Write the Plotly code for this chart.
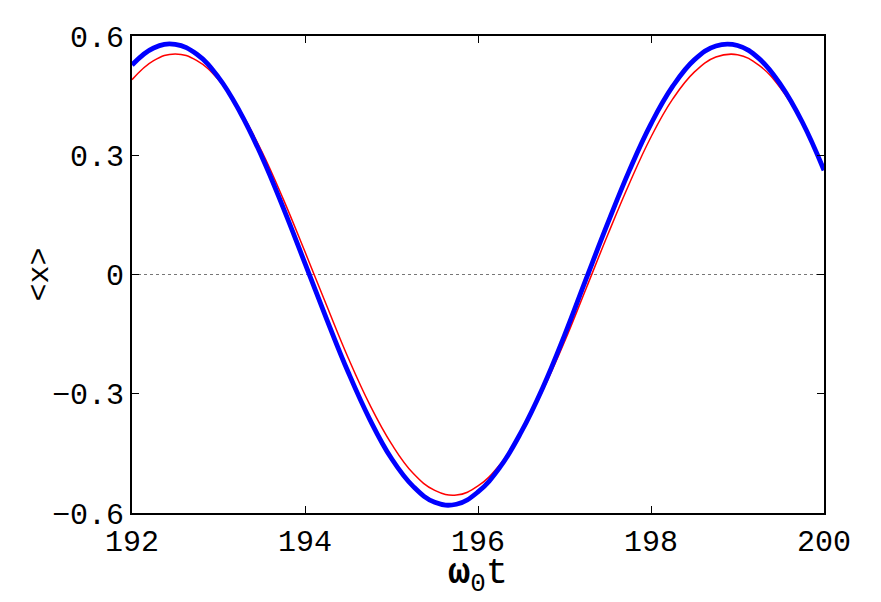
import plotly.graph_objects as go

t_values = [192.0 + 0.25 * i for i in range(33)]

x_blue = [0.527, 0.570, 0.579, 0.554, 0.496, 0.408, 0.297, 0.167, 0.028, -0.112,
          -0.246, -0.365, -0.463, -0.533, -0.573, -0.578, -0.547, -0.486, -0.396, -0.284,
          -0.153, -0.011, 0.129, 0.262, 0.379, 0.473, 0.540, 0.575, 0.576, 0.543,
          0.477, 0.383, 0.262]

x_red = [0.490, 0.538, 0.555, 0.538, 0.490, 0.412, 0.310, 0.189, 0.057, -0.078,
         -0.210, -0.328, -0.426, -0.500, -0.543, -0.555, -0.532, -0.479, -0.397, -0.291,
         -0.169, -0.035, 0.100, 0.229, 0.346, 0.441, 0.509, 0.547, 0.553, 0.526,
         0.468, 0.382, 0.270]

x_ticks = [192, 194, 196, 198, 200]
y_ticks = [-0.6, -0.3, 0, 0.3, 0.6]
y_tick_labels = ["\u22120.6", "\u22120.3", "0", "0.3", "0.6"]

fig = go.Figure()
fig.add_trace(go.Scatter(x=t_values, y=x_red, mode="lines",
                         line=dict(color="#ff0000", width=1.5, shape="spline", smoothing=1.2),
                         showlegend=False))
fig.add_trace(go.Scatter(x=t_values, y=x_blue, mode="lines",
                         line=dict(color="#0000ff", width=4.8, shape="spline", smoothing=1.2),
                         showlegend=False))

fig.add_shape(type="line", xref="paper", yref="y", x0=0, x1=1, y0=0, y1=0,
              line=dict(color="#777777", width=1, dash="dot"), layer="below")

font_mono = "Liberation Mono, Courier New, monospace"

fig.add_annotation(text="<b>\u03c9</b><sub>0</sub>t", xref="paper", yref="paper",
                   x=0.5, y=-0.13, xanchor="center", yanchor="middle", showarrow=False,
                   font=dict(size=37, family=font_mono, color="black"))
fig.add_annotation(text="&lt;x&gt;", xref="paper", yref="paper",
                   x=-0.133, y=0.5, xanchor="center", yanchor="middle", showarrow=False,
                   textangle=-90, font=dict(size=30, family=font_mono, color="black"))

fig.update_layout(
    width=873, height=594,
    margin=dict(l=124, r=57, t=28, b=89, autoexpand=False),
    paper_bgcolor="white", plot_bgcolor="white",
    font=dict(family=font_mono, color="black"),
    xaxis=dict(range=[192, 200], tickvals=x_ticks, ticktext=[str(v) for v in x_ticks],
               ticks="inside", ticklen=7, tickwidth=1, tickcolor="black",
               showline=True, linecolor="black", linewidth=2, mirror="ticks",
               showgrid=False, zeroline=False, automargin=False,
               tickfont=dict(size=30, family=font_mono)),
    yaxis=dict(range=[-0.6, 0.6], tickvals=y_ticks, ticktext=y_tick_labels,
               ticks="inside", ticklen=7, tickwidth=1, tickcolor="black",
               showline=True, linecolor="black", linewidth=2, mirror="ticks",
               showgrid=False, zeroline=False, automargin=False,
               tickfont=dict(size=30, family=font_mono)),
)

fig.write_html("out.html")
